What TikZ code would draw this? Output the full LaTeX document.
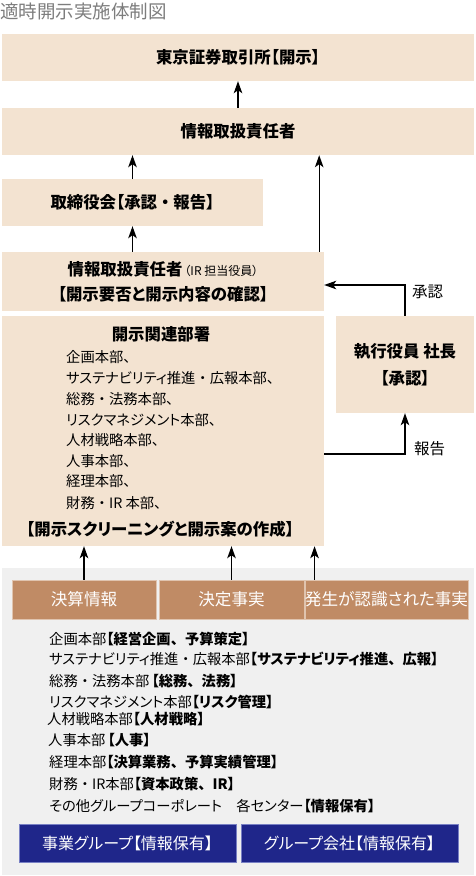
\documentclass[tikz,border=0pt]{standalone}
\usepackage{fontspec}
\setmainfont{Noto Sans CJK JP}[RawFeature=+palt]
\newfontfamily\fullw{Noto Sans CJK JP}
\usetikzlibrary{arrows.meta}
\definecolor{boxbeige}{RGB}{243,227,209}
\definecolor{infobrown}{RGB}{192,139,101}
\definecolor{infoedge}{RGB}{224,196,175}
\definecolor{groupblue}{RGB}{31,38,138}
\definecolor{groupedge}{RGB}{120,128,196}
\definecolor{bggray}{RGB}{240,240,240}
\definecolor{titlegray}{RGB}{125,125,125}
\newcommand{\bigbf}{\fontsize{16.4}{25}\selectfont\bfseries}
\newcommand{\listfont}{\fontsize{14.3}{16}\selectfont}
\newcommand{\nk}{{\fullw ・}}
\newcommand{\tn}{{\fullw 、}}

\begin{document}
\begin{tikzpicture}[x=1pt,y=-1pt,
    flow/.style={fill=boxbeige,inner sep=0pt,font=\bigbf},
    info/.style={fill=infobrown,draw=infoedge,line width=0.8pt,text=white,inner sep=0pt,minimum height=39pt,font=\fontsize{16.6}{18}\selectfont},
    grp/.style={fill=groupblue,draw=groupedge,line width=0.8pt,text=white,inner sep=0pt,minimum height=38pt,font=\fontsize{16}{18}\selectfont},
    item/.style={anchor=west,inner sep=0pt,font=\listfont},
    arr/.style={-{Stealth[length=12pt,width=8.5pt,inset=3pt]},line width=1.3pt}]
    \useasboundingbox (0,0) rectangle (475,876);
    \fill[bggray] (2,568) rectangle (474,875);
    \node[anchor=west,inner sep=0pt,text=titlegray,font=\fontsize{18.5}{20}\selectfont] (title) at (0,11) {適時開示実施体制図};
    %% upper chain
    \node (tse) at (238,57.5) [flow,minimum width=472pt,minimum height=47pt] {東京証券取引所【開示】};
    \node (irm) at (238,131.5) [flow,minimum width=472pt,minimum height=47pt] {情報取扱責任者};
    \node (board) at (132.5,202.5) [flow,minimum width=261pt,minimum height=47pt] {取締役会【承認\nk 報告】};
    \node (iro) at (163,281.5) [flow,align=center,minimum width=322pt,minimum height=59pt] {情報取扱責任者{\fontsize{12}{14}\selectfont\mdseries\,（IR 担当役員）}\\【開示要否と開示内容の確認】};
    \node (exec) at (405,364.5) [flow,align=center,font=\fontsize{16.4}{27}\selectfont\bfseries,minimum width=138pt,minimum height=97pt] {執行役員 社長\\【承認】};
    %% departments
    \node (dept) at (163,431) [flow,minimum width=322pt,minimum height=230pt] {};
    \node (depthead) at (161,334) [inner sep=0pt,font=\bigbf] {開示関連部署};
    \node (d1) at (66,357) [item] {企画本部、};
    \node (d2) at (66,378) [item] {サステナビリティ推進\nk 広報本部、};
    \node (d3) at (66,399) [item] {総務\nk 法務本部、};
    \node (d4) at (66,420) [item] {リスクマネジメント本部、};
    \node (d5) at (66,440) [item] {人材戦略本部、};
    \node (d6) at (66,461) [item] {人事本部、};
    \node (d7) at (66,481) [item] {経理本部、};
    \node (d8) at (66,503) [item] {財務\nk IR 本部、};
    \node (deptfoot) at (160,529) [inner sep=0pt,font=\bigbf] {【開示スクリーニングと開示案の作成】};
    %% information sources
    \node (kessan) at (84,599.5) [info,minimum width=144pt] {決算情報};
    \node (kettei) at (231.5,599.5) [info,minimum width=145pt] {決定事実};
    \node (hassei) at (386.5,599.5) [info,minimum width=159pt] {発生が認識された事実};
    \node (s1) at (49,639) [item] {企画本部\textbf{【経営企画\tn 予算策定】}};
    \node (s2) at (49,659) [item] {サステナビリティ推進\nk 広報本部\textbf{【サステナビリティ推進\tn 広報】}};
    \node (s3) at (49,681) [item] {総務\nk 法務本部\,\textbf{【総務\tn 法務】}};
    \node (s4) at (49,702) [item] {リスクマネジメント本部\textbf{【リスク管理】}};
    \node (s5) at (47,719) [item] {人材戦略本部\textbf{【人材戦略】}};
    \node (s6) at (48,740) [item] {人事本部\,\textbf{【人事】}};
    \node (s7) at (49,762) [item] {経理本部\textbf{【決算業務\tn 予算実績管理】}};
    \node (s8) at (49,784) [item] {財務\nk IR本部\textbf{【資本政策\tn IR】}};
    \node (s9) at (49,806) [item] {その他グループコーポレート　各センター\textbf{【情報保有】}};
    \node (jigyo) at (127.5,843) [grp,minimum width=217pt] {事業グループ【情報保有】};
    \node (grpco) at (349.5,843) [grp,minimum width=217pt] {グループ会社【情報保有】};
    %% connectors
    \draw[arr] (irm) -- (tse);
    \draw[arr] (board.north) -- (board.north |- irm.south);
    \draw[arr] (iro.north -| board) -- (board.south);
    \coordinate (irup) at ([xshift=-5pt]iro.north east);
    \draw[arr] (irup) -- (irup |- irm.south);
    \draw[arr] (exec.north) |- ([yshift=-3.5pt]iro.east);
    \node (okl) at (412,292) [anchor=west,inner sep=0pt,font=\fontsize{15.5}{16}\selectfont] {承認};
    \coordinate (rep) at ([yshift=-23pt]dept.east);
    \draw[arr] (rep) -| (exec.south);
    \node (repl) at (414,449) [anchor=west,inner sep=0pt,font=\fontsize{15.5}{16}\selectfont] {報告};
    \draw[arr] (kessan) -- (kessan |- dept.south);
    \draw[arr] (kettei) -- (kettei |- dept.south);
    \coordinate (hup) at ([xshift=10pt]hassei.north west);
    \draw[arr] (hup) -- (hup |- dept.south);
\end{tikzpicture}
\end{document}
